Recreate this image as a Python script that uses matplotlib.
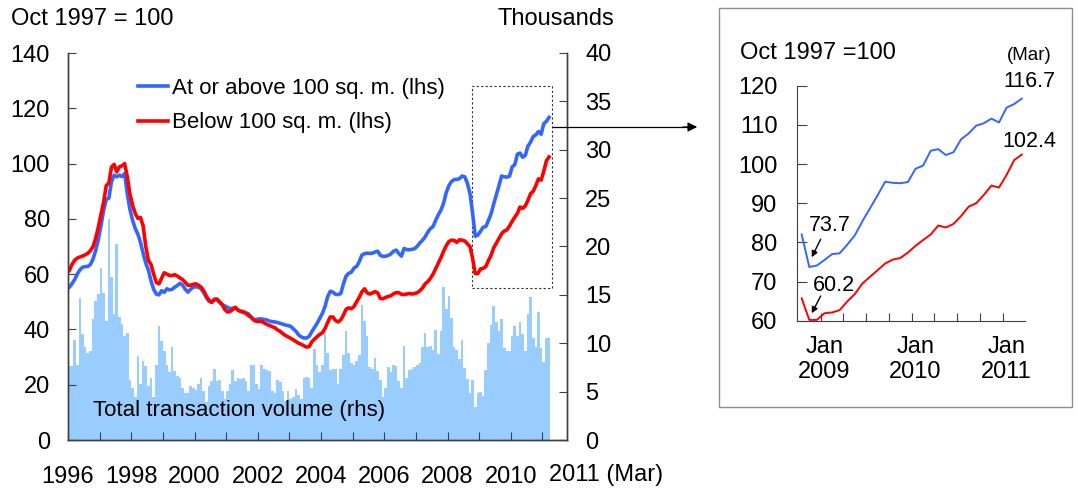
import numpy as np
import pandas as pd
import matplotlib
matplotlib.use('Agg')
import matplotlib.pyplot as plt
from matplotlib.patches import Rectangle

plt.rcParams['font.family'] = ['Liberation Sans', 'DejaVu Sans']

# monthly data, Jan 1996 - Mar 2011
months = pd.period_range('1996-01', '2011-03', freq='M')

large = [55.3, 56.5, 58, 60, 61.5, 62.5, 62.7, 62.8, 63.5, 65.5,
         68.6, 72.5, 77.5, 83, 87, 87.5, 93.5, 95.8, 95.2, 95.8,
         95.3, 96.4, 89, 83.5, 79.5, 76.5, 74.5, 71.5, 67.5, 64,
         61.5, 57.5, 54.5, 52.8, 52.5, 54, 53.4, 54.7, 54.3, 54.5,
         55.3, 55.9, 56.7, 56, 54.5, 53.5,
         54.5, 55.3, 55.4, 55.3, 54.7, 53.3, 51.5, 50.2, 49.8, 51,
         50.8, 49.8, 48.9, 48.5, 48, 47.5, 47.7, 47.8, 47, 46.6,
         46.5, 46, 45.6, 44.4, 43.5, 43.6, 43.8, 43.8, 43.6, 43.4,
         43, 42.8, 42.7, 42.5, 42.2, 41.9, 41.6, 41.4, 41.1, 40.2,
         39.3, 38, 37.3, 36.9, 36.9, 37.5, 39.2,
         40.7, 42.2, 44, 45.8, 48.3, 51.8, 53.8, 53.5, 52.7, 52.6,
         53, 56.5, 59.3, 60.3, 60.7, 62.2, 62.8, 64.5, 66.9, 67.4,
         67.6, 67.5, 67.6, 68, 68.3, 66.8, 66.4, 66.5, 66.8, 67.3,
         68.3, 68.7, 67.5, 66.5, 69.3, 68.9, 68.8, 69, 69.2, 70.1,
         71.3, 72.3, 73.5, 75.2, 76.5,
         77.2, 79.5, 81.5, 83.2, 85.7, 89.5, 92, 93.5, 94.2, 94.3,
         94.5, 95.5, 95.2, 93, 89.2,
         82.0, 73.7, 74.1, 75.5, 77.0, 77.2, 79.4, 81.8, 85.4, 88.7,
         92.0, 95.5, 95.2, 95.1, 95.4, 98.8, 99.6, 103.4, 103.8, 102.3,
         103.0, 106.3, 107.8, 109.8, 110.4, 111.6, 110.6, 114.4, 115.3, 116.7]

small = [61.3, 63.5, 65, 65.8, 66.2, 66.5, 67, 67.5, 68.5, 70,
         73, 77, 81.5, 86, 92, 93, 98.8, 99.7, 97, 98.8,
         99.2, 100, 95.2, 89, 85, 82, 80.2, 80.5, 77.5, 70,
         65, 63.5, 60, 57, 56.5, 58.5, 60.5, 60, 59.5, 59.5,
         59.8, 59.3, 58.6, 58, 57, 56,
         56, 56.3, 56.5, 56, 55.3, 54, 52, 50.6, 49.8, 50.7,
         51, 50, 49, 47.2, 46.3, 46.5, 47.2, 48, 47, 46.5,
         46.2, 45.8, 45, 44.4, 43.4, 42.9, 42.9, 42.9, 42.3, 41.8,
         41.4, 41, 40.6, 39.8, 39.3, 38.5, 37.8, 37.3, 36.8, 36.2,
         35.6, 35, 34.6, 34.1, 33.6, 33.8, 35.5,
         36.5, 37.4, 38.2, 38.8, 40.3, 42.5, 44.5, 44.5, 43.2, 42.7,
         43.5, 45.2, 47.3, 47.8, 47.5, 48.3, 50, 51.6, 53.6, 54.7,
         53.2, 52.8, 53.2, 53.7, 53.2, 51.2, 51.1, 51.6, 51.9, 52.2,
         52.9, 53.3, 53.3, 52.7, 52.6, 52.8, 53, 52.8, 53, 53.3,
         54, 55, 56.5, 57.3, 58.5,
         60, 62, 64, 66, 68.3, 70.3, 71.8, 72.3, 72.2, 71.5,
         72.4, 72.3, 72, 71, 70,
         65.7, 60.2, 60.2, 61.9, 62.1, 62.7, 64.9, 66.8, 69.5, 71.2,
         72.9, 74.6, 75.6, 76.0, 77.4, 79.1, 80.6, 82.0, 84.3, 83.8,
         84.7, 86.7, 89.1, 90.0, 92.1, 94.5, 94.0, 97.2, 101.0, 102.4]

volume = [7.7, 7.7, 10.3, 7.8, 14.7, 11, 9.6, 9.0, 9.2, 12.5,
          14.4, 15.1, 17.8, 15.2, 12.3, 22.8, 16.8, 13, 20.3, 12.7,
          12, 10.8, 11.1, 6.2, 5.4, 4.4, 8.7, 5.8, 8.2, 7.7,
          5.6, 6.4, 4.4, 7.8, 11.8, 10.2, 9.2, 7.8, 7, 9.6,
          7.1, 6.6, 6.4, 5.4, 4.9, 4.9,
          5.6, 5.4, 5.2, 5.8, 6.4, 5.1, 3.9, 5.6, 6.1, 7.3,
          6.1, 6.2, 5.1, 4.2, 5.1, 5.8, 7.2, 6.1, 6.4, 6.3,
          6.4, 6.1, 5.1, 7.8, 7.8, 5.8, 5.3, 7.8, 7.3, 7.2,
          7.1, 5.1, 4.9, 6.2, 6, 5.1, 4, 5.1, 4.2, 4.4,
          5.3, 4.7, 4.2, 6.4, 6.5, 6.4, 5.4,
          9.4, 7.8, 7, 7.8, 11.3, 9, 7.2, 7.3, 7.3, 5.8,
          7.3, 8.8, 11.3, 9, 8, 7.8, 8.2, 8.8, 14, 12.3,
          10.8, 7.5, 7.3, 8.5, 7.1, 6.2, 4.4, 5.4, 7.5, 7,
          7.8, 7.6, 6.1, 5.4, 9.7, 6.4, 7.2, 7.3, 7.5, 7.8,
          8, 9.6, 11.1, 9.6,
          9.7, 9.3, 11.4, 8.9, 11.3, 15.8, 13.5, 14.9, 12.6, 9.6,
          9.3, 8.4, 10.3, 7.4, 6.3, 4.9, 6.2, 3.4, 4.9, 5,
          4.5, 7.2, 10, 11.9, 13.8, 12.2, 11.3, 12.5, 9.5, 9.2,
          9.2, 10.7, 11.8, 10.7, 12.2, 11, 9.2, 13, 14.8, 10.5,
          9.6, 13.2, 9.5, 8.1, 10.5, 10.5]

year_labels = ['1996', '', '1998', '', '2000', '', '2002', '', '2004', '',
               '2006', '', '2008', '', '2010', '']

# inset: Oct 2008 - Mar 2011
inset_start = pd.Period('2008-10', freq='M')
inset_labels = ['Jan\n2009', 'Jan\n2010', 'Jan\n2011']

BLUE = '#3366ff'
RED = '#ff0000'
BAR = '#99ccff'
SPINE = '#404040'
FS = 17

x = np.array([p.year + (p.month - 0.5) / 12 for p in months])

fig = plt.figure(figsize=(10.78, 4.90), dpi=100)

# ---------- main chart ----------
ax = fig.add_axes([68 / 1078, 50 / 490, 499 / 1078, 387 / 490])
ax2 = ax.twinx()
ax2.bar(x, volume, width=1 / 12, color=BAR, linewidth=0, align='center')
ax.set_zorder(ax2.get_zorder() + 1)
ax.patch.set_visible(False)

ax.plot(x, large, color=BLUE, lw=2.6, label='At or above 100 sq. m. (lhs)', solid_joinstyle='round')
ax.plot(x, small, color=RED, lw=2.6, label='Below 100 sq. m. (lhs)', solid_joinstyle='round')

ax.set_xlim(1996, 1996 + 499 / 31.63)
ax.set_ylim(0, 140)
ax2.set_ylim(0, 40)
ax.set_yticks(range(0, 141, 20))
ax2.set_yticks(range(0, 41, 5))
ax.set_xticks(range(1996, 2012))
ax.set_xticklabels(year_labels)

for a in (ax, ax2):
    a.spines['top'].set_visible(False)
    for s in ('left', 'right', 'bottom'):
        a.spines[s].set_color(SPINE)
        a.spines[s].set_linewidth(1.0)
ax.tick_params(axis='y', direction='in', length=5.5, pad=13, labelsize=FS, color=SPINE)
ax2.tick_params(axis='y', direction='in', length=5.5, pad=13, labelsize=FS, color=SPINE)
ax.tick_params(axis='x', direction='in', length=5.5, pad=19, labelsize=FS, color=SPINE)

ax.text(2011.22, -0.09, '2011 (Mar)', transform=ax.get_xaxis_transform(),
        ha='left', va='center', fontsize=FS)

# dashed box around recent period
ax.add_patch(Rectangle((2008 + 9.5 / 12 - 0.03, 55), 2.55, 73, fill=False,
                       ls=(0, (2, 2)), lw=0.8, ec='#333333'))

ax.legend(loc='upper left', bbox_to_anchor=(138 / 1078, 1 - 78 / 490),
          bbox_transform=fig.transFigure, frameon=False, fontsize=16,
          handlelength=1.35, handletextpad=0.2, labelspacing=0.6,
          borderpad=0, borderaxespad=0)

ax.text(93 / 1078, 1 - 410 / 490, 'Total transaction volume (rhs)', transform=fig.transFigure,
        ha='left', va='center', fontsize=16, zorder=5)

fig.text(11 / 1078, 1 - 19 / 490, 'Oct 1997 = 100', ha='left', va='center', fontsize=FS)
fig.text(497 / 1078, 1 - 19 / 490, 'Thousands', ha='left', va='center', fontsize=FS)

# arrow to inset
fig.add_artist(plt.Line2D([553 / 1078, 690 / 1078], [1 - 127 / 490, 1 - 127 / 490],
                          color='black', lw=0.9))
ax.annotate('', xy=(700 / 1078, 1 - 127 / 490), xytext=(680 / 1078, 1 - 127 / 490),
            xycoords='figure fraction', textcoords='figure fraction',
            arrowprops=dict(arrowstyle='-|>', color='black', lw=0.9, mutation_scale=14))

# ---------- inset panel ----------
fig.add_artist(Rectangle((719 / 1078, 1 - 407 / 490), 353 / 1078, 399 / 490,
                         transform=fig.transFigure, fill=False, ec='#8c8c8c', lw=1.0))

n0 = list(months).index(inset_start)
ix = np.arange(len(months) - n0)
ins = fig.add_axes([797 / 1078, 1 - 320.7 / 490, 228 / 1078, 235 / 490])
ins.plot(ix, large[n0:], color=BLUE, lw=1.4)
ins.plot(ix, small[n0:], color=RED, lw=1.4)
ins.set_xlim(-0.62, 29.43)
ins.set_ylim(60, 120)
ins.set_yticks(range(60, 121, 10))
ins.set_xticks(np.arange(2.5, 27, 3))
ins.set_xticklabels([])
ins.set_xticks([3, 15, 27], minor=True)
ins.set_xticklabels(inset_labels, minor=True)
ins.tick_params(axis='x', which='major', direction='in', length=5.5, color=SPINE)
ins.tick_params(axis='x', which='minor', length=0, pad=11, labelsize=FS)
ins.tick_params(axis='y', direction='in', length=7, pad=14, labelsize=FS, color=SPINE)
ins.spines['top'].set_visible(False)
ins.spines['right'].set_visible(False)
ins.spines['left'].set_color(SPINE)
ins.spines['bottom'].set_color(SPINE)

fig.text(740 / 1078, 1 - 53 / 490, 'Oct 1997 =100', ha='left', va='center', fontsize=FS)
ins.text(30.0, 127.8, '(Mar)', ha='center', va='center', fontsize=13.5, clip_on=False)
ins.text(30.0, 121.0, '116.7', ha='center', va='center', fontsize=15.5, clip_on=False)
ins.text(30.0, 105.7, '102.4', ha='center', va='center', fontsize=15.5, clip_on=False)

ins.text(3.73, 84.4, '73.7', ha='center', va='center', fontsize=15.5)
ins.annotate('', xy=(1.32, 76.2), xytext=(2.5, 80.8),
             arrowprops=dict(arrowstyle='-|>', color='black', lw=1.0, mutation_scale=9,
                             shrinkA=0, shrinkB=0))
ins.text(4.26, 69.1, '60.2', ha='center', va='center', fontsize=15.5)
ins.annotate('', xy=(1.32, 61.9), xytext=(2.5, 66.3),
             arrowprops=dict(arrowstyle='-|>', color='black', lw=1.0, mutation_scale=9,
                             shrinkA=0, shrinkB=0))

fig.savefig('out.png', dpi=100)
